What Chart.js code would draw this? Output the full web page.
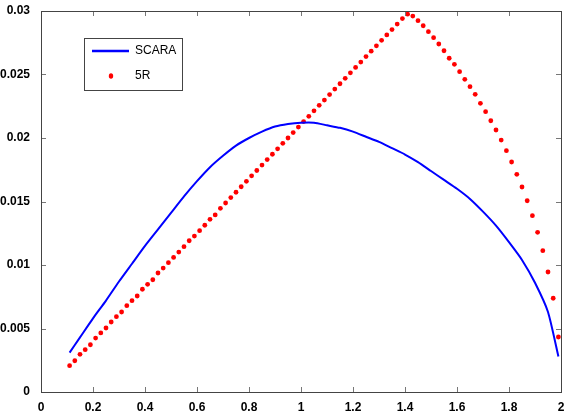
<!DOCTYPE html>
<html>
<head>
<meta charset="utf-8">
<script src="https://cdn.jsdelivr.net/npm/chart.js@4.4.1/dist/chart.umd.min.js"></script>
<style>
  html, body { margin: 0; padding: 0; background: #fff; }
  #wrap { width: 565px; height: 418px; }
</style>
</head>
<body>
<div id="wrap"><canvas id="plot"></canvas></div>
<script>
// SCARA curve
const scaraX = [0.11, 0.15, 0.2, 0.25, 0.3, 0.35, 0.4, 0.45, 0.5, 0.55,
    0.6, 0.65, 0.7, 0.75, 0.8, 0.85, 0.9, 0.95, 1.0, 1.05,
    1.1, 1.15, 1.2, 1.25, 1.3, 1.35, 1.4, 1.45, 1.5, 1.55,
    1.6, 1.65, 1.7, 1.75, 1.8, 1.85, 1.9, 1.95, 1.99];
const scaraY = [0.0031, 0.0043, 0.0058, 0.0072, 0.0087, 0.0101, 0.0115, 0.0128, 0.0141, 0.0154,
    0.0166, 0.0177, 0.0186, 0.0194, 0.0200, 0.0205, 0.0209, 0.0211, 0.0212, 0.0212,
    0.0210, 0.0208, 0.0205, 0.0201, 0.0197, 0.0192, 0.0187, 0.0181, 0.0174, 0.0167,
    0.0160, 0.0152, 0.0142, 0.0131, 0.0118, 0.0104, 0.0086, 0.0063, 0.0028];

// 5R samples
const fiveRX = [0.11, 0.13, 0.15, 0.17, 0.19, 0.21, 0.23, 0.25, 0.27, 0.29,
    0.31, 0.33, 0.35, 0.37, 0.39, 0.41, 0.43, 0.45, 0.47, 0.49,
    0.51, 0.53, 0.55, 0.57, 0.59, 0.61, 0.63, 0.65, 0.67, 0.69,
    0.71, 0.73, 0.75, 0.77, 0.79, 0.81, 0.83, 0.85, 0.87, 0.89,
    0.91, 0.93, 0.95, 0.97, 0.99, 1.01, 1.03, 1.05, 1.07, 1.09,
    1.11, 1.13, 1.15, 1.17, 1.19, 1.21, 1.23, 1.25, 1.27, 1.29,
    1.31, 1.33, 1.35, 1.37, 1.39, 1.41, 1.43, 1.45, 1.47, 1.49,
    1.51, 1.53, 1.55, 1.57, 1.59, 1.61, 1.63, 1.65, 1.67, 1.69,
    1.71, 1.73, 1.75, 1.77, 1.79, 1.81, 1.83, 1.85, 1.87, 1.89,
    1.91, 1.93, 1.95, 1.97, 1.99];
const fiveRY = [0.00207, 0.00246, 0.00297, 0.00333, 0.00372, 0.00425, 0.00465, 0.00504, 0.00551, 0.00593,
    0.00630, 0.00680, 0.00719, 0.00756, 0.00809, 0.00848, 0.00884, 0.00937, 0.00976, 0.01018,
    0.01060, 0.01102, 0.01144, 0.01191, 0.01228, 0.01270, 0.01313, 0.01360, 0.01394, 0.01446,
    0.01488, 0.01531, 0.01573, 0.01616, 0.01659, 0.01702, 0.01744, 0.01787, 0.01830, 0.01872,
    0.01915, 0.01958, 0.02000, 0.02043, 0.02086, 0.02129, 0.02171, 0.02214, 0.02257, 0.02299,
    0.02342, 0.02385, 0.02427, 0.02470, 0.02513, 0.02556, 0.02598, 0.02641, 0.02684, 0.02726,
    0.02769, 0.02812, 0.02854, 0.02897, 0.02940, 0.02975, 0.02960, 0.02924, 0.02884, 0.02837,
    0.02790, 0.02740, 0.02687, 0.02628, 0.02580, 0.02522, 0.02462, 0.02404, 0.02344, 0.02273,
    0.02207, 0.02136, 0.02063, 0.01984, 0.01900, 0.01811, 0.01714, 0.01614, 0.01506, 0.01388,
    0.01257, 0.01113, 0.00945, 0.00738, 0.00433];

const xTicks = [0, 0.2, 0.4, 0.6, 0.8, 1, 1.2, 1.4, 1.6, 1.8, 2];
const yTicks = [0, 0.005, 0.01, 0.015, 0.02, 0.025, 0.03];

const tickFont = { family: 'Liberation Sans, Arial, sans-serif', size: 12, weight: 'bold' };

function toPoints(xs, ys) {
    return xs.map((x, i) => ({ x: x, y: ys[i] }));
}

// box around the plot with inward ticks on every side, plus the legend
const frame = {
    id: 'frame',
    afterDatasetsDraw(chart) {
        const ctx = chart.ctx;
        const a = chart.chartArea;
        const sx = chart.scales.x, sy = chart.scales.y;
        ctx.save();
        ctx.strokeStyle = '#777';
        ctx.lineWidth = 1;
        ctx.beginPath();
        xTicks.forEach(v => {
            const px = Math.round(sx.getPixelForValue(v)) + 0.5;
            ctx.moveTo(px, a.bottom); ctx.lineTo(px, a.bottom - 5);
            ctx.moveTo(px, a.top); ctx.lineTo(px, a.top + 5);
        });
        yTicks.forEach(v => {
            const py = Math.round(sy.getPixelForValue(v)) + 0.5;
            ctx.moveTo(a.left, py); ctx.lineTo(a.left + 5, py);
            ctx.moveTo(a.right, py); ctx.lineTo(a.right - 5, py);
        });
        ctx.stroke();
        ctx.strokeStyle = '#444';
        ctx.strokeRect(Math.round(a.left) + 0.5, Math.round(a.top) + 0.5,
            Math.round(a.right - a.left), Math.round(a.bottom - a.top));

        // legend
        const ds = chart.data.datasets;
        ctx.fillStyle = '#fff';
        ctx.fillRect(84.5, 38.5, 98, 52);
        ctx.strokeStyle = '#444';
        ctx.strokeRect(84.5, 38.5, 98, 52);
        ctx.font = '12px Liberation Sans, Arial, sans-serif';
        ctx.textBaseline = 'middle';
        ctx.strokeStyle = ds[0].borderColor;
        ctx.lineWidth = 2.5;
        ctx.beginPath();
        ctx.moveTo(92, 51); ctx.lineTo(129, 51);
        ctx.stroke();
        ctx.fillStyle = '#000';
        ctx.fillText(ds[0].label, 135, 51);
        ctx.fillStyle = ds[1].backgroundColor;
        ctx.beginPath();
        ctx.ellipse(111, 76, 2.2, 2.7, 0, 0, Math.PI * 2);
        ctx.fill();
        ctx.fillStyle = '#000';
        ctx.fillText(ds[1].label, 135, 76);
        ctx.restore();
    }
};

new Chart(document.getElementById('plot'), {
    type: 'scatter',
    data: {
        datasets: [
            {
                label: 'SCARA',
                data: toPoints(scaraX, scaraY),
                showLine: true,
                borderColor: '#0000ff',
                borderWidth: 2,
                pointRadius: 0,
                tension: 0.2
            },
            {
                label: '5R',
                data: toPoints(fiveRX, fiveRY),
                showLine: false,
                backgroundColor: '#ff0000',
                borderWidth: 0,
                pointRadius: 2.4,
                pointStyle: 'circle'
            }
        ]
    },
    options: {
        responsive: true,
        maintainAspectRatio: false,
        animation: false,
        layout: { padding: { top: 11, right: 4, left: 0, bottom: 0 } },
        plugins: { legend: { display: false }, tooltip: { enabled: false } },
        scales: {
            x: {
                type: 'linear',
                min: 0, max: 2,
                afterBuildTicks: s => { s.ticks = xTicks.map(v => ({ value: v })); },
                afterFit: s => { s.height = 26; },
                grid: { display: false },
                border: { display: false },
                ticks: {
                    color: '#000', font: tickFont, padding: 0, maxRotation: 0,
                    callback: v => String(+v.toFixed(2))
                }
            },
            y: {
                type: 'linear',
                min: 0, max: 0.03,
                afterBuildTicks: s => { s.ticks = yTicks.map(v => ({ value: v })); },
                afterFit: s => { s.width = 41; },
                grid: { display: false },
                border: { display: false },
                ticks: {
                    color: '#000', font: tickFont, padding: 3,
                    callback: v => String(+v.toFixed(4))
                }
            }
        }
    },
    plugins: [frame]
});
</script>
</body>
</html>
